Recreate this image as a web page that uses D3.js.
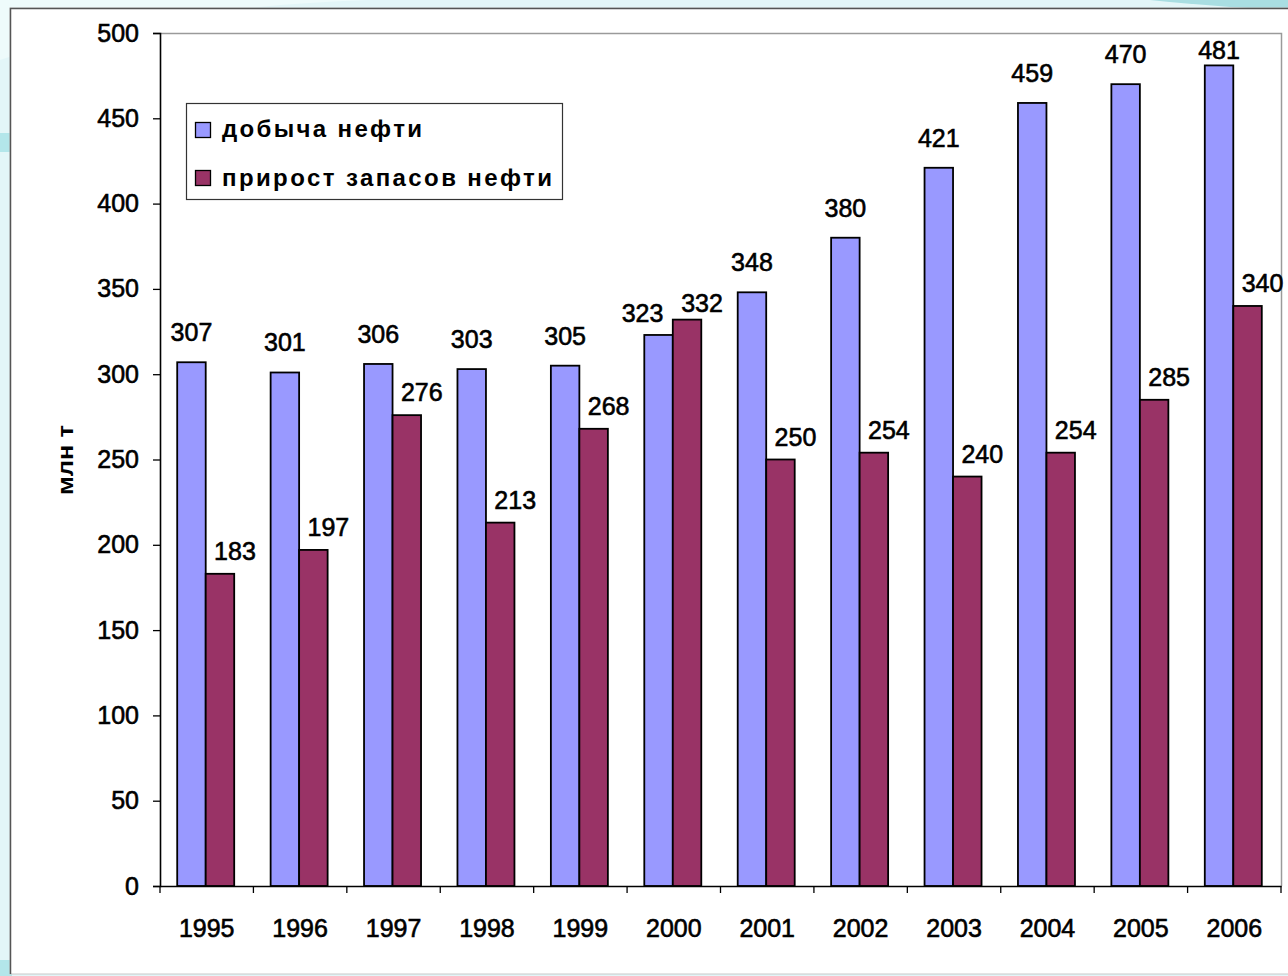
<!DOCTYPE html>
<html><head><meta charset="utf-8">
<script src="https://cdn.jsdelivr.net/npm/d3@7"></script>
<style>html,body{margin:0;padding:0;background:#e3f6f8;}svg{display:block;}</style>
</head><body>
<svg id="c" width="1288" height="976"></svg>
<script>
const years = ["1995","1996","1997","1998","1999","2000","2001","2002","2003","2004","2005","2006"];
const production = [307,301,306,303,305,323,348,380,421,459,470,481];
const reserves = [183,197,276,213,268,332,250,254,240,254,285,340];
const seriesNames = ["добыча нефти","прирост запасов нефти"];
const seriesColors = ["#9999FF","#993366"];
const yTicks = [0,50,100,150,200,250,300,350,400,450,500];
const yTitle = "млн т";

const svg = d3.select("#c");
const font = "'Liberation Sans', Arial, sans-serif";

// background decoration
svg.append("rect").attr("width",1288).attr("height",976).attr("fill","#e3f6f8");
svg.append("path").attr("d","M0,60 Q200,-10 520,0 L0,0 Z").attr("fill","#eefbfb");
svg.append("rect").attr("x",0).attr("y",133).attr("width",12).attr("height",19).attr("fill","#b3e6ea");
svg.append("path").attr("d","M1150,0 L1288,0 L1288,10 Q1230,8 1150,0 Z").attr("fill","#a9dee2");
svg.append("rect").attr("x",0).attr("y",960).attr("width",12).attr("height",16).attr("fill","#b3e6ea");

// white panel
svg.append("rect").attr("x",10).attr("y",8).attr("width",1290).attr("height",966)
  .attr("fill","#fff").attr("stroke","#c8c8c8").attr("stroke-width",1);
svg.append("path").attr("d","M10.5,974 L10.5,8.5 L1288,8.5").attr("fill","none")
  .attr("stroke","#555").attr("stroke-width",1.5);

const L = 160, T = 33, R = 1281, B = 886;
const x0 = d3.scaleBand().domain(years).range([L,R]).paddingInner(0).paddingOuter(0);
const y = d3.scaleLinear().domain([0,500]).range([B,T]);
const bw = 28.5;
const x1 = d3.scaleBand().domain([0,1]).range([0,2*bw]);
const off = (x0.bandwidth() - 2*bw)/2 - 1;

// plot area border (top/right)
svg.append("path").attr("d",`M${L},${T}.5 L${R}.5,${T}.5 L${R}.5,${B}`)
  .attr("fill","none").attr("stroke","#9a9a9a").attr("stroke-width",1.5);

// bars
const groups = svg.append("g").selectAll("g").data(years).join("g")
  .attr("transform",d=>`translate(${x0(d)+off},0)`);
[production,reserves].forEach((arr,si)=>{
  groups.append("rect")
    .attr("x",x1(si)).attr("width",x1.bandwidth())
    .attr("y",(d,i)=>y(arr[i])).attr("height",(d,i)=>B-y(arr[i]))
    .attr("fill",seriesColors[si]).attr("stroke","#000").attr("stroke-width",1.8);
});

const txtStyle = sel => sel.attr("font-family",font).attr("font-size",25).attr("fill","#000")
  .attr("stroke","#000").attr("stroke-width",0.6);

// y axis
const yAxis = d3.axisLeft(y).tickValues(yTicks).tickSize(7).tickPadding(14);
const ya = svg.append("g").attr("transform",`translate(${L},0)`).call(yAxis);
ya.select(".domain").attr("stroke","#000").attr("stroke-width",1.6);
ya.selectAll(".tick line").attr("stroke","#000").attr("stroke-width",1.3);
ya.selectAll("text").call(txtStyle);

// x axis
const xAxis = d3.axisBottom(x0).tickSize(0).tickPadding(30);
const xa = svg.append("g").attr("transform",`translate(0,${B})`).call(xAxis);
xa.select(".domain").attr("stroke","#000").attr("stroke-width",1.6);
xa.selectAll("text").call(txtStyle).attr("y",42).attr("dy","0.36em");
xa.selectAll("line.sep").data(years.concat(["end"])).join("line").attr("class","sep")
  .attr("x1",(d,i)=>L+i*x0.bandwidth()).attr("x2",(d,i)=>L+i*x0.bandwidth())
  .attr("y1",0).attr("y2",7).attr("stroke","#000").attr("stroke-width",1.3);

// value labels
const lab = svg.append("g").call(txtStyle);
years.forEach((yr,i)=>{
  const bx = x0(yr)+off;
  const redTaller = reserves[i] > production[i];
  const bxc = bx + x1(0) + bw/2 - (redTaller ? 16 : 0);
  const by = Math.max(y(production[i]) - (redTaller ? 13 : 21), T+26);
  lab.append("text").attr("x",bxc).attr("y",by).attr("text-anchor","middle").text(production[i]);
  const rxc = bx + x1(1) + bw/2 + 15;
  const ry = Math.max(y(reserves[i]) - (redTaller ? 8 : 14), T+26);
  lab.append("text").attr("x",rxc).attr("y",ry).attr("text-anchor","middle").text(reserves[i]);
});

// y title
svg.append("text").attr("transform","translate(73,460) rotate(-90)")
  .attr("text-anchor","middle").attr("font-family",font).attr("font-weight","bold")
  .attr("font-size",22).attr("textLength",70).attr("lengthAdjust","spacingAndGlyphs").text(yTitle);

// legend
const lg = svg.append("g");
lg.append("rect").attr("x",186.5).attr("y",103.5).attr("width",376).attr("height",96)
  .attr("fill","#fff").attr("stroke","#333").attr("stroke-width",1.2);
const legW = [200,330];
seriesNames.forEach((n,i)=>{
  lg.append("rect").attr("x",195.5).attr("y",122.5+i*48).attr("width",15).attr("height",15)
    .attr("fill",seriesColors[i]).attr("stroke","#000").attr("stroke-width",1.3);
  lg.append("text").attr("x",222).attr("y",137+i*49).attr("font-family",font)
    .attr("font-weight","bold").attr("font-size",24)
    .attr("textLength",legW[i]).attr("lengthAdjust","spacing").text(n);
});
</script>
</body></html>
